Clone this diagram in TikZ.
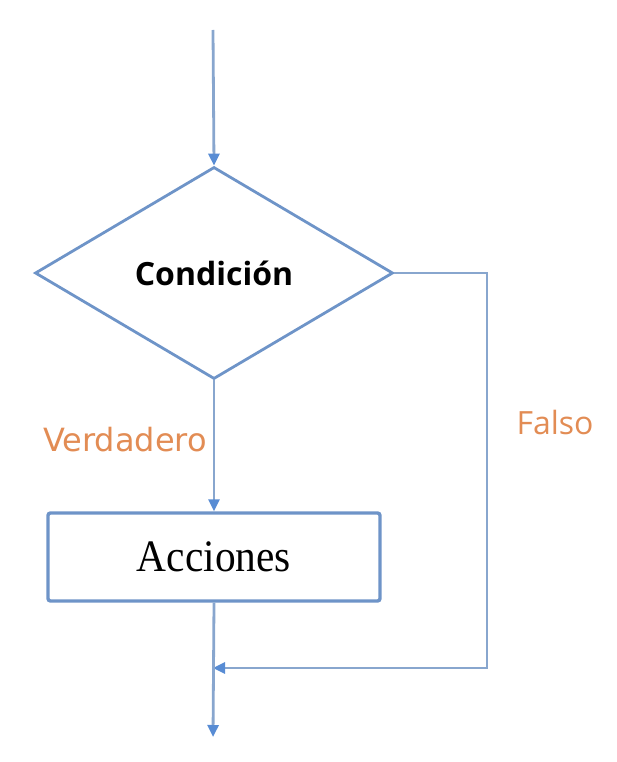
\documentclass[tikz,border=0pt]{standalone}
\usepackage{fontspec}
\usepackage{graphicx}
\usetikzlibrary{shapes.geometric,arrows.meta,positioning}
\newfontfamily\condfont{Open Sans}
\newfontfamily\verdfont{DejaVu Sans}
\newfontfamily\accfont{Liberation Serif}
\definecolor{flowline}{RGB}{136,166,206}
\definecolor{flowtip}{RGB}{88,140,212}
\definecolor{flowbox}{RGB}{110,148,200}
\definecolor{labelorange}{RGB}{226,140,84}
\tikzstyle{decision}=[diamond,draw=flowbox,line width=2.8pt,minimum width=358pt,minimum height=212pt,inner sep=0pt]
\tikzstyle{process}=[rectangle,draw=flowbox,line width=3.4pt,rounded corners=2.5pt,minimum width=332pt,minimum height=88pt,inner sep=0pt]
\tikzstyle{edge} = [draw,flowline,line width=2.8pt,-{Triangle[width=11pt,length=12pt,color=flowtip]}]
\tikzstyle{branch} = [text=labelorange]

\begin{document}
\begin{tikzpicture}[x=1pt,y=-1pt]
    \useasboundingbox (0,0) rectangle (616,762);
    % First the two boxes

    \node[decision] (cond) at (214,273) {\condfont\bfseries\fontsize{32}{38}\selectfont Condición};
    \node[process] (acc) at (214,557) {\accfont\fontsize{45}{52}\selectfont\scalebox{0.92}[1]{Acciones}};

    \coordinate (start) at (213,30);
    \coordinate (join) at (213,668);
    \coordinate (fcorner) at (487,668);
    \coordinate (finish) at (213,737);

    % Connect them
    \path[edge] (start) -- (cond.north);
    \path[edge] (cond.south) -- (acc.north);
    \path[edge] (cond.east) -| (fcorner) -- (join);
    \path[edge] (acc.south) -- (finish);

    % Branch labels
    \node[branch] (yes) at (125,440) {\verdfont\fontsize{32}{38}\selectfont Verdadero};
    \node[branch] (no) at (555,422) {\condfont\fontsize{32}{38}\selectfont Falso};

\end{tikzpicture}
\end{document}
